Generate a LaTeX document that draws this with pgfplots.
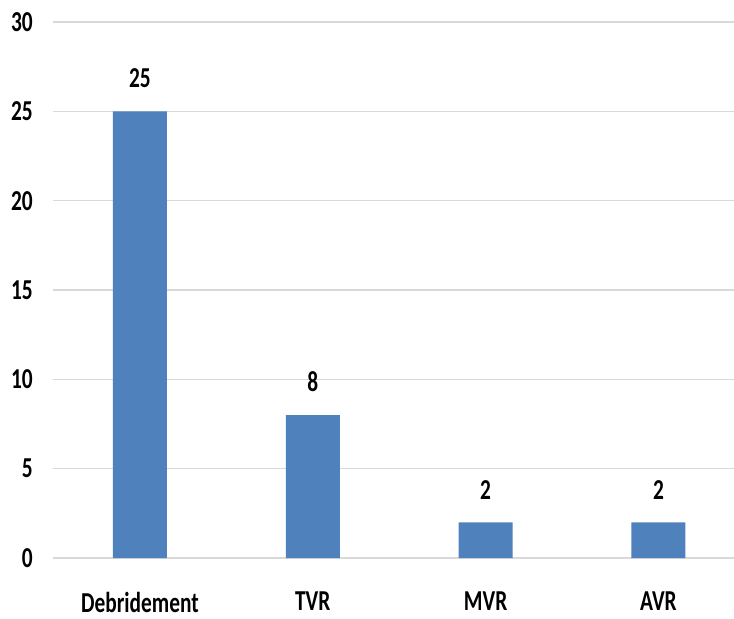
\documentclass[border=0pt]{standalone}
\usepackage{fontspec}
\setmainfont{Carlito}[FakeStretch=0.74]
\usepackage{pgfplots}
\pgfplotsset{compat=1.18}
\definecolor{barblue}{HTML}{4F81BD}
\definecolor{gridgray}{HTML}{D9D9D9}
\begin{document}
\begin{tikzpicture}
\begin{axis}[
  scale only axis=true,
  width=681bp, height=536bp,
  xmin=-0.503, xmax=3.437,
  ymin=0, ymax=30,
  ytick={0,5,...,30},
  xtick=data,
  xticklabels={Debridement,TVR,MVR,AVR},
  axis x line*=bottom,
  axis y line*=left,
  x axis line style={draw=gridgray, line width=1.5bp},
  y axis line style={draw=none},
  ymajorgrids=true,
  grid style={draw=gridgray, line width=1.5bp},
  major tick length=0pt,
  /pgf/number format/assume math mode=true,
  font=\fontsize{29}{31}\selectfont\bfseries,
  yticklabel style={anchor=east, inner sep=0pt, xshift=-20bp},
  xticklabel style={anchor=north, inner sep=0pt, yshift=-34bp},
  ybar,
  bar width=0.3125,
  nodes near coords,
  nodes near coords style={anchor=south, inner sep=0pt, yshift=23bp, font=\fontsize{29}{31}\selectfont\bfseries},
  clip=false,
]
\addplot[fill=barblue, draw=none] coordinates {(0,25) (1,8) (2,2) (3,2)};
\end{axis}
\pgfresetboundingbox
\path[use as bounding box] (-53bp,-61bp) rectangle (681bp,558bp);
\end{tikzpicture}
\end{document}
